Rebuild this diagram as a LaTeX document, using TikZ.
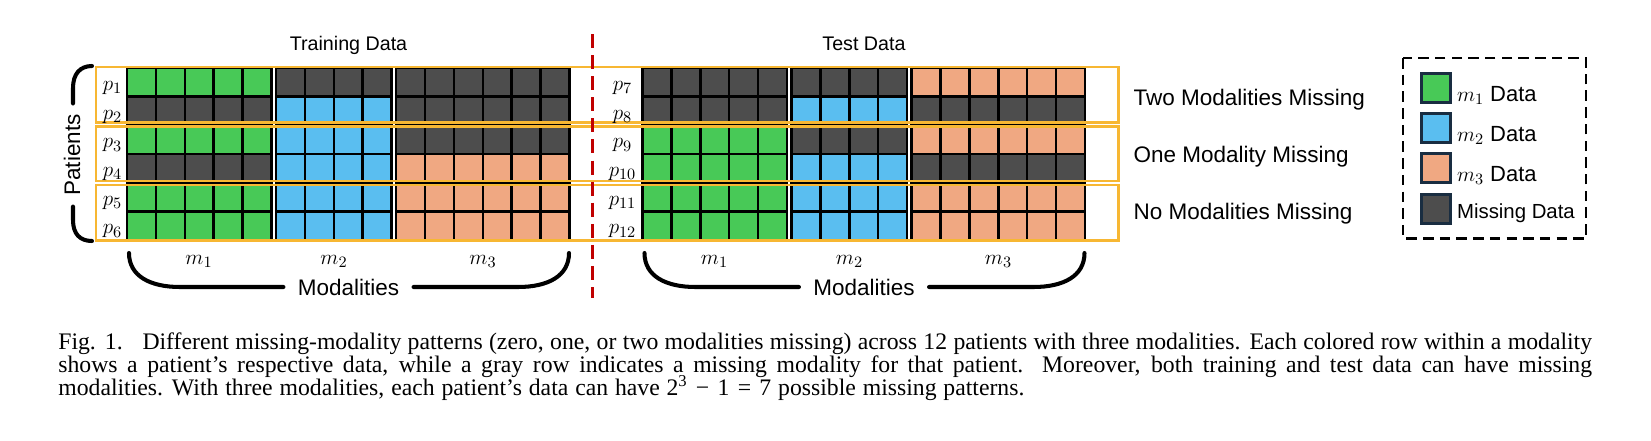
\documentclass[tikz,border=0pt]{standalone}
\usepackage{fontspec}
\setmainfont{Liberation Serif}
\newfontfamily\arialf{Liberation Sans}
\newfontfamily\capfont{Liberation Serif}
\definecolor{cG}{RGB}{72,201,87}
\definecolor{cB}{RGB}{90,190,240}
\definecolor{cS}{RGB}{240,168,130}
\definecolor{cX}{RGB}{77,77,77}
\definecolor{cO}{RGB}{247,183,51}
\definecolor{cR}{RGB}{192,0,0}
\definecolor{cN}{RGB}{25,45,65}
\newcommand\modblock[3]{%
  \foreach \cc [count=\rr from 0] in {#3} {
    \fill[\cc] (#1,{68+28.667*\rr}) rectangle ++({28.9*#2},28.667);
  }
  \foreach \ii in {0,...,#2} \draw[gridline] ({#1+28.9*\ii},68) -- ({#1+28.9*\ii},240);
  \foreach \jj in {0,...,6} \draw[gridline] (#1,{68+28.667*\jj}) -- ({#1+28.9*#2},{68+28.667*\jj});
}
\newcommand\capspaces{\spaceskip=0.25em plus 0.6em minus 0.08em\relax}
\begin{document}
\begin{tikzpicture}[x=0.02cm,y=-0.02cm,
  gridline/.style={line width=1.42pt,black,line cap=rect},
  obox/.style={draw=cO,line width=1.7pt},
  bracestroke/.style={line width=2.3pt,line cap=round},
  sans/.style={font=\arialf\fontsize{12.8pt}{15pt}\selectfont,inner sep=0pt},
  title/.style={font=\arialf\fontsize{11.2pt}{13pt}\selectfont,inner sep=0pt,anchor=base},
  mathlab/.style={font=\fontsize{13pt}{15pt}\selectfont,inner sep=0pt,anchor=base},
  legtext/.style={font=\arialf\fontsize{11.6pt}{13pt}\selectfont,inner sep=0pt,anchor=base west},
  legsq/.style={draw=cN,line width=1.7pt,minimum size=0.58cm,inner sep=0pt},
  capline/.style={font=\capfont\fontsize{13.5pt}{15pt}\selectfont,inner sep=0pt,anchor=base west}
]
\useasboundingbox (0,0) rectangle (1651,440);

% ---------- training grid ----------
\modblock{127}{5}{cG,cX,cG,cX,cG,cG}
\modblock{276}{4}{cX,cB,cB,cB,cB,cB}
\modblock{396.1}{6}{cX,cX,cX,cS,cS,cS}
% ---------- test grid ----------
\modblock{642.5}{5}{cX,cX,cG,cG,cG,cG}
\modblock{791.5}{4}{cX,cB,cX,cB,cB,cB}
\modblock{911.6}{6}{cS,cX,cS,cX,cS,cS}

% ---------- group boxes ----------
\draw[obox] (96,67) rectangle (1118,122.5);
\draw[obox] (96,126.5) rectangle (1118,181);
\draw[obox] (96,185) rectangle (1118,240.5);

% ---------- patient labels ----------
\foreach \k [count=\j from 0] in {1,...,6} {
  \node[mathlab] (p\k) at (112.5,{90.5+28.667*\j}) {$p_{\k}$};
}
\foreach \k [count=\j from 0] in {7,...,12} {
  \node[mathlab] (p\k) at (622.5,{90.5+28.667*\j}) {$p_{\k}$};
}

% ---------- titles ----------
\node[title] (train) at (348.5,50) {Training Data};
\node[title] (test) at (864,50) {Test Data};

% ---------- modality labels ----------
\node[mathlab] (m1a) at (199,264) {$m_1$};
\node[mathlab] (m2a) at (334,264) {$m_2$};
\node[mathlab] (m3a) at (483,264) {$m_3$};
\node[mathlab] (m1b) at (714.5,264) {$m_1$};
\node[mathlab] (m2b) at (849.5,264) {$m_2$};
\node[mathlab] (m3b) at (998.5,264) {$m_3$};

% ---------- modalities braces ----------
\node[sans] (modA) at (348.5,287) {Modalities};
\node[sans] (modB) at (864,287) {Modalities};
\draw[bracestroke] (129,253) .. controls (129,276) and (150,287) .. (180,287) -- ([xshift=-8pt]modA.west |- 0,287);
\draw[bracestroke] ([xshift=8pt]modA.east |- 0,287) -- (518,287) .. controls (548,287) and (569,276) .. (569,253);
\draw[bracestroke] (644.5,253) .. controls (644.5,276) and (665.5,287) .. (695.5,287) -- ([xshift=-8pt]modB.west |- 0,287);
\draw[bracestroke] ([xshift=8pt]modB.east |- 0,287) -- (1033.5,287) .. controls (1063.5,287) and (1084.5,276) .. (1084.5,253);

% ---------- patients brace ----------
\node[sans,rotate=90] (pat) at (72,155) {Patients};
\draw[bracestroke] (92,66) .. controls (80,66) and (73,74) .. (73,88) -- ([yshift=6pt]pat.east -| 73,0);
\draw[bracestroke] ([yshift=-6pt]pat.west -| 73,0) -- (73,220) .. controls (73,234) and (80,241) .. (92,241);

% ---------- group labels ----------
\node[sans,anchor=base west] (g1) at (1133.3,105) {Two Modalities Missing};
\node[sans,anchor=base west] (g2) at (1133.3,162.7) {One Modality Missing};
\node[sans,anchor=base west] (g3) at (1133.3,219.3) {No Modalities Missing};

% ---------- legend ----------
\draw[line width=1.15pt,dash pattern=on 6pt off 3.5pt] (1403.3,58) rectangle (1586,238.5);
\node[legsq,fill=cG] (l1) at (1436.2,88.3) {};
\node[legsq,fill=cB] (l2) at (1436.2,128.3) {};
\node[legsq,fill=cS] (l3) at (1436.2,168.3) {};
\node[legsq,fill=cX] (l4) at (1436.2,209) {};
\node[legtext] (t1) at (1456.7,101) {\fontsize{12.5pt}{14pt}\selectfont$m_1$ Data};
\node[legtext] (t2) at (1456.7,141.7) {\fontsize{12.5pt}{14pt}\selectfont$m_2$ Data};
\node[legtext] (t3) at (1456.7,181.7) {\fontsize{12.5pt}{14pt}\selectfont$m_3$ Data};
\node[legtext] (t4) at (1456.7,218.3) {Missing Data};

% ---------- separator ----------
\draw[cR,line width=2pt,dash pattern=on 8pt off 4pt] (592.5,34) -- (592.5,298);

% ---------- caption ----------
\node[capline] (c1) at (58,349) {\capspaces\makebox[872.9pt][s]{Fig. 1.\hspace{0.45em} Different missing-modality patterns (zero, one, or two modalities missing) across 12 patients with three modalities. Each colored row within a modality}};
\node[capline] (c2) at (58,372) {\capspaces\makebox[872.9pt][s]{shows a patient’s respective data, while a gray row indicates a missing modality for that patient. Moreover, both training and test data can have missing}};
\node[capline] (c3) at (58,395.5) {\spaceskip=0.29em\relax modalities. With three modalities, each patient’s data can have 2\textsuperscript{3}\hspace{0.35em}−\hspace{0.35em}1\hspace{0.35em}=\hspace{0.35em}7 possible missing patterns.};
\end{tikzpicture}
\end{document}
